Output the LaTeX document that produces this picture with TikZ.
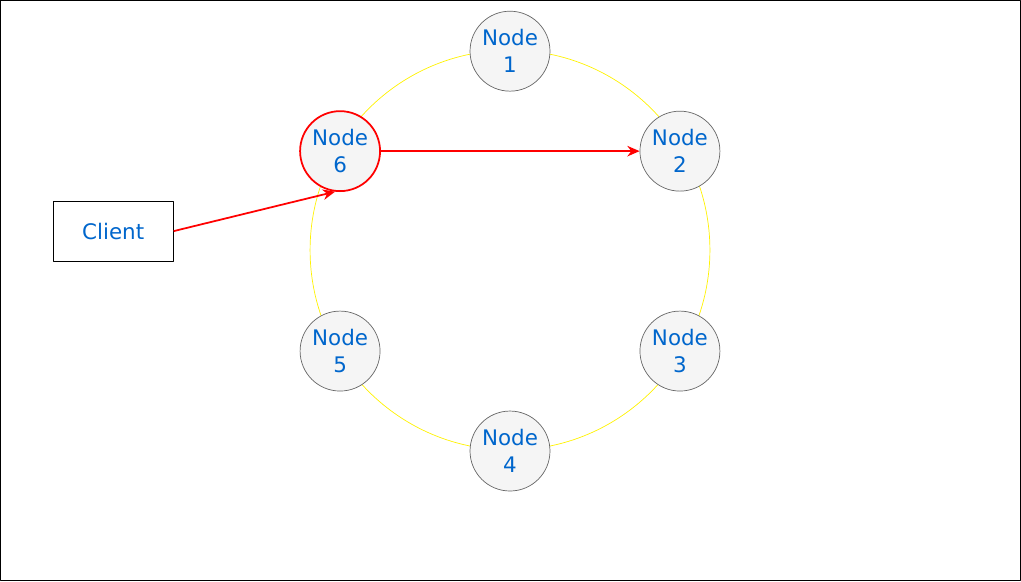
\documentclass[tikz,border=0pt]{standalone}
\usepackage{fontspec}
\setmainfont{DejaVu Sans}
\usetikzlibrary{arrows.meta}
\definecolor{txtblue}{HTML}{0066CC}
\definecolor{ringnode}{HTML}{F5F5F5}
\definecolor{ringedge}{HTML}{666666}
\begin{document}
\begin{tikzpicture}[x=0.02cm, y=-0.02cm, >={Stealth[length=7pt,width=6pt]}, line join=round,
	font=\fontsize{12.2}{15.2}\selectfont,
	ringnode/.style={circle, draw=ringedge, fill=ringnode, line width=0.4pt, minimum size=80*0.02cm, inner sep=0pt, text=txtblue, align=center},
	client/.style={rectangle, draw=black, line width=0.6pt, minimum width=120*0.02cm, minimum height=60*0.02cm, text=txtblue},
	req/.style={->, draw=red, line width=1pt}]
	% frame
	\draw[line width=0.8pt] (0.5,0.5) rectangle (1020.5,580.5);
	\useasboundingbox (0,0) rectangle (1021,581);
	% ring
	\draw[yellow, line width=0.4pt] (510,250) circle (200);
	% nodes
	\node[ringnode] (n1) at (510,51) {Node\\1};
	\node[ringnode] (n2) at (680,151) {Node\\2};
	\node[ringnode] (n3) at (680,351) {Node\\3};
	\node[ringnode] (n4) at (510,451) {Node\\4};
	\node[ringnode] (n5) at (340,351) {Node\\5};
	\node[ringnode, draw=red, line width=1pt] (n6) at (340,151) {Node\\6};
	\node[client] (client) at (113,231) {Client};
	% requests
	\draw[req] (client.east) -- (n6.263);
	\draw[req] (n6.east) -- (n2.west);
\end{tikzpicture}
\end{document}
